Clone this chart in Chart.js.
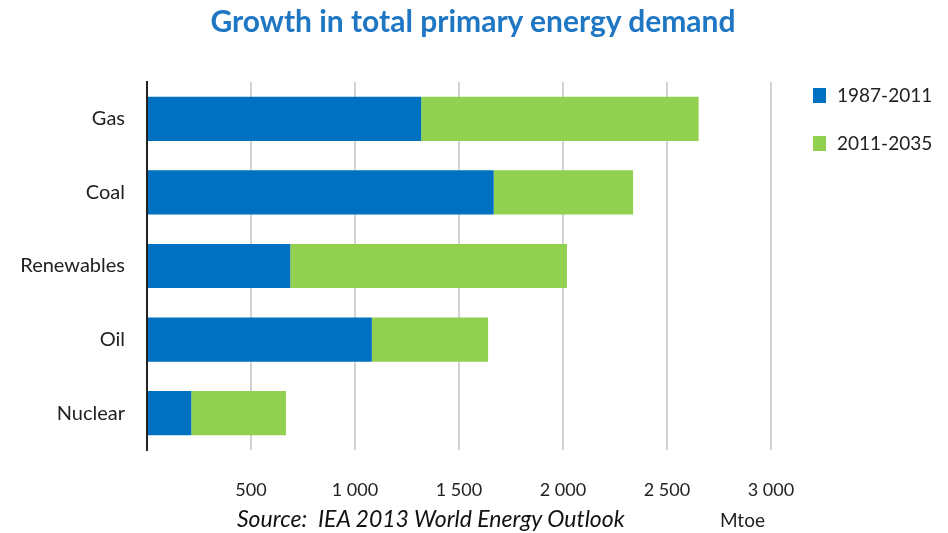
<!DOCTYPE html>
<html>
<head>
<meta charset="utf-8">
<script src="https://cdn.jsdelivr.net/npm/chart.js@4/dist/chart.umd.min.js"></script>
<style>
  html, body { margin: 0; padding: 0; background: #fff; }
  #wrap { position: relative; width: 948px; height: 533px; font-family: Lato, "Open Sans", sans-serif; }
  #plot { position: absolute; left: 0; top: 0; }
  #title { position: absolute; left: 0; width: 946px; top: 2px; text-align: center;
           font-size: 30px; font-weight: bold; color: #1f77c4; }
  #legend { position: absolute; left: 813px; top: 83px; font-size: 19px; color: #222; }
  #legend div { height: 48px; display: flex; align-items: flex-start; }
  #legend span.box { display: inline-block; width: 13px; height: 15px; margin: 5px 11px 0 0; }
  #source { position: absolute; left: 237px; top: 504px; font-size: 23px; font-style: italic; color: #111; }
  #unit { position: absolute; left: 720px; top: 508px; font-size: 19px; color: #222; }
</style>
</head>
<body>
<div id="wrap">
  <canvas id="plot" width="948" height="533"></canvas>
  <div id="title">Growth in total primary energy demand</div>
  <div id="legend"></div>
  <div id="source">Source:&nbsp; IEA 2013 World Energy Outlook</div>
  <div id="unit">Mtoe</div>
</div>
<script>
const categories = ['Gas', 'Coal', 'Renewables', 'Oil', 'Nuclear'];
const growth1987to2011 = [1318, 1667, 689, 1081, 213];
const growth2011to2035 = [1334, 670, 1330, 559, 455];
const seriesNames = ['1987-2011', '2011-2035'];
const seriesColors = ['#0070c0', '#92d050'];
const xTicks = [500, 1000, 1500, 2000, 2500, 3000];

const ctx = document.getElementById('plot').getContext('2d');

const plot = new Chart(ctx, {
    type: 'bar',
    data: {
        labels: categories,
        datasets: [
            { label: seriesNames[0], data: growth1987to2011, backgroundColor: seriesColors[0] },
            { label: seriesNames[1], data: growth2011to2035, backgroundColor: seriesColors[1] }
        ]
    },
    options: {
        indexAxis: 'y',
        responsive: false,
        animation: false,
        layout: { padding: { top: 82, right: 177, left: 0, bottom: 0 } },
        datasets: { bar: { categoryPercentage: 1, barPercentage: 0.6 } },
        plugins: {
            legend: { display: false },
            tooltip: { enabled: false }
        },
        scales: {
            x: {
                stacked: true,
                min: 0,
                max: 3000,
                afterBuildTicks: (scale) => {
                    scale.ticks = [0, ...xTicks].map(v => ({ value: v }));
                },
                afterFit: (scale) => { scale.height = 83; },
                border: { display: false },
                grid: {
                    drawTicks: false,
                    color: (c) => c.tick && c.tick.value === 0 ? 'rgba(0,0,0,0)' : '#d2d2d2',
                    lineWidth: 2
                },
                ticks: {
                    padding: 29,
                    color: '#222',
                    font: { family: 'Lato', size: 18 },
                    callback: (v) => v === 0 ? '' : String(v).replace(/\B(?=(\d{3})+$)/g, ' ')
                }
            },
            y: {
                stacked: true,
                afterFit: (scale) => { scale.width = 147; },
                border: { display: true, color: '#222', width: 2 },
                grid: { display: false, drawTicks: false },
                ticks: {
                    padding: 22,
                    color: '#222',
                    font: { family: 'Lato', size: 20 }
                }
            }
        }
    }
});

// legend
const legend = document.getElementById('legend');
plot.data.datasets.forEach(ds => {
    const row = document.createElement('div');
    row.innerHTML = `<span class="box" style="background:${ds.backgroundColor}"></span>${ds.label}`;
    legend.appendChild(row);
});
</script>
</body>
</html>
